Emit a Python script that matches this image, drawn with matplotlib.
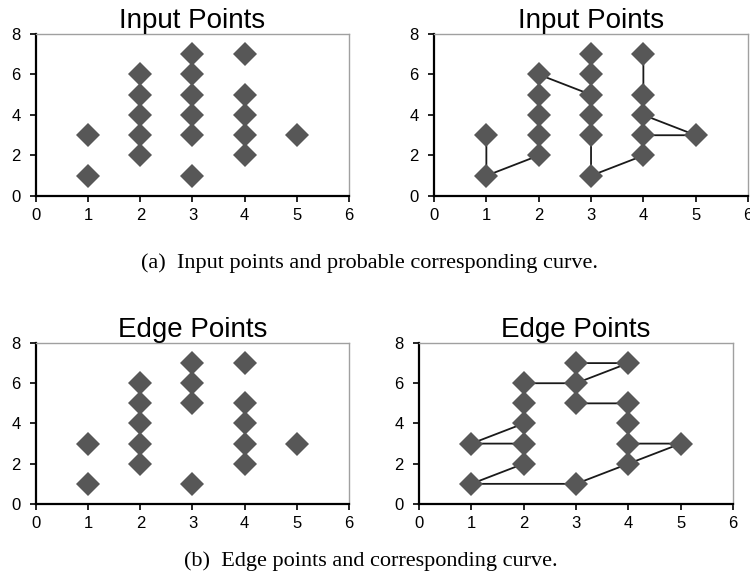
import matplotlib.pyplot as plt

# punti di input (pannello a)
input_x = [1, 1, 2, 2, 2, 2, 2, 3, 3, 3, 3, 3, 3, 4, 4, 4, 4, 4, 5]
input_y = [3, 1, 6, 5, 4, 3, 2, 7, 6, 5, 4, 3, 1, 7, 5, 4, 3, 2, 3]

# curva probabile sui punti di input
curve_a_x = [1, 1, 2, 2, 2, 2, 2, 3, 3, 3, 3, 3, 3, 4, 4, 5, 4, 4, 4]
curve_a_y = [3, 1, 2, 3, 4, 5, 6, 5, 6, 7, 4, 3, 1, 2, 3, 3, 4, 5, 7]

# punti di bordo (pannello b)
edge_x = [1, 1, 2, 2, 2, 2, 2, 3, 3, 3, 3, 4, 4, 4, 4, 4, 5]
edge_y = [3, 1, 6, 5, 4, 3, 2, 7, 6, 5, 1, 7, 5, 4, 3, 2, 3]

# curva corrispondente sui punti di bordo
curve_b_x = [1, 2, 2, 1, 3, 4, 5, 4, 4, 4, 3, 3, 4, 3, 2, 2, 2, 1]
curve_b_y = [3, 3, 2, 1, 1, 2, 3, 3, 4, 5, 5, 7, 7, 6, 6, 5, 4, 3]

titles = ["Input Points", "Input Points", "Edge Points", "Edge Points"]
captions = ["(a)  Input points and probable corresponding curve.",
            "(b)  Edge points and corresponding curve."]

MARKER_COLOR = "#575757"
SANS = "Liberation Sans"


def style_axes(ax, title):
    ax.set_xlim(0, 6)
    ax.set_ylim(0, 8)
    ax.set_xticks(range(0, 7))
    ax.set_yticks(range(0, 9, 2))
    for side in ("top", "right"):
        ax.spines[side].set_color("#a0a0a0")
        ax.spines[side].set_linewidth(1.0)
    for side in ("left", "bottom"):
        ax.spines[side].set_color("black")
        ax.spines[side].set_linewidth(1.6)
    ax.tick_params(axis="both", direction="out", length=4, width=1.2,
                   labelsize=12, colors="black")
    ax.tick_params(axis="y", pad=7)
    ax.tick_params(axis="x", pad=5)
    for lbl in ax.get_xticklabels() + ax.get_yticklabels():
        lbl.set_fontfamily(SANS)
    ax.set_title(title, fontsize=20, family=SANS, pad=2)


fig = plt.figure(figsize=(7.5, 5.88), dpi=100)

ax1 = fig.add_axes([0.048, 0.6667, 0.4173, 0.2755])
ax2 = fig.add_axes([0.5787, 0.6667, 0.4187, 0.2755])
ax3 = fig.add_axes([0.048, 0.1429, 0.4173, 0.2738])
ax4 = fig.add_axes([0.5587, 0.1429, 0.4187, 0.2738])

mk = dict(marker="D", markersize=12, color=MARKER_COLOR, linestyle="none",
          markeredgewidth=0, zorder=3)

ax1.plot(input_x, input_y, **mk)

ax2.plot(curve_a_x, curve_a_y, color="#1a1a1a", linewidth=1.3, zorder=2)
ax2.plot(input_x, input_y, **mk)

ax3.plot(edge_x, edge_y, **mk)

ax4.plot(curve_b_x, curve_b_y, color="#1a1a1a", linewidth=1.3, zorder=2)
ax4.plot(edge_x, edge_y, **mk)

for ax, t in zip([ax1, ax2, ax3, ax4], titles):
    style_axes(ax, t)
    for sp in ax.spines.values():
        sp.set_clip_on(False)

fig.text(0.493, 1 - 263 / 588, captions[0], ha="center", va="center",
         fontsize=16, family="Liberation Serif")
fig.text(0.495, 1 - 561 / 588, captions[1], ha="center", va="center",
         fontsize=16, family="Liberation Serif")

plt.savefig("out.png", dpi=100)
